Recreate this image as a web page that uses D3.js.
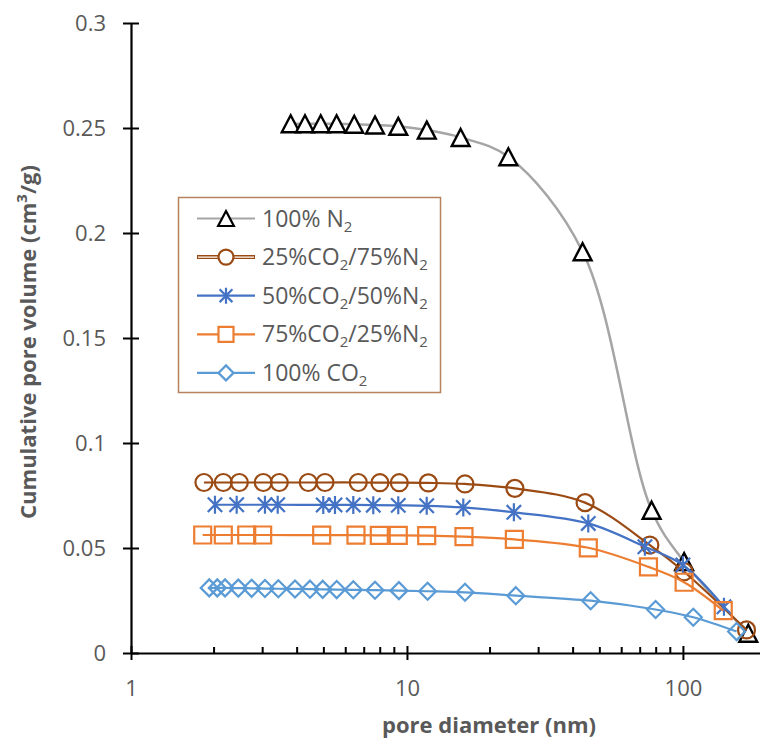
<!DOCTYPE html>
<html>
<head>
<meta charset="utf-8">
<script src="https://cdn.jsdelivr.net/npm/d3@7"></script>
<style>
  body { margin: 0; background: #fff; }
  text { font-family: "Open Sans", sans-serif; fill: #595959; }
</style>
</head>
<body>
<svg width="760" height="744"></svg>
<script>
// pore diameter (nm) and cumulative pore volume (cm3/g) per gas mixture
var n2X = [3.79, 4.27, 4.87, 5.56, 6.44, 7.66, 9.30, 11.8, 15.65, 23.3, 43.3, 77.0, 101, 172.5];
var n2Y = [0.252, 0.252, 0.252, 0.252, 0.2518, 0.2514, 0.2508, 0.249, 0.2455, 0.2363, 0.1911, 0.068, 0.0435, 0.0094];

var co25X = [1.838, 2.160, 2.469, 3.015, 3.446, 4.389, 5.045, 6.66, 7.98, 9.38, 11.95, 16.23, 24.6, 44.2, 75.9, 101, 170];
var co25Y = [0.0812, 0.0812, 0.0812, 0.0812, 0.0812, 0.0812, 0.0812, 0.0812, 0.0811, 0.0811, 0.081, 0.0805, 0.0784, 0.0716, 0.0514, 0.0387, 0.011];

var co50X = [2.015, 2.415, 3.058, 3.401, 4.974, 5.485, 6.39, 7.55, 9.30, 11.79, 16.0, 24.4, 45.4, 72.8, 100, 140.8];
var co50Y = [0.0706, 0.0706, 0.0706, 0.0706, 0.0705, 0.0705, 0.0705, 0.0704, 0.0703, 0.0701, 0.0693, 0.067, 0.0617, 0.0506, 0.0419, 0.022];

var co75X = [1.819, 2.160, 2.626, 3.000, 4.909, 6.535, 7.94, 9.30, 11.79, 16.09, 24.5, 45.4, 75, 101, 140];
var co75Y = [0.0562, 0.0562, 0.0562, 0.0562, 0.0561, 0.0561, 0.056, 0.056, 0.0559, 0.0554, 0.0541, 0.0501, 0.041, 0.0337, 0.0202];

var co100X = [1.921, 2.054, 2.191, 2.448, 2.737, 3.058, 3.419, 3.929, 4.453, 4.950, 5.564, 6.39, 7.66, 9.35, 11.88, 16.23, 24.8, 46.3, 79.6, 109, 156.5];
var co100Y = [0.031, 0.031, 0.031, 0.0309, 0.0308, 0.0307, 0.0306, 0.0305, 0.0304, 0.0303, 0.0302, 0.0301, 0.0299, 0.0297, 0.0294, 0.0289, 0.0273, 0.0249, 0.0207, 0.017, 0.0102];

var yTicks = [0, 0.05, 0.1, 0.15, 0.2, 0.25, 0.3];
var xTicks = [1, 10, 100];
var xMinor = [2, 3, 4, 5, 6, 7, 8, 9, 20, 30, 40, 50, 60, 70, 80, 90];

var series = [
  {name: ["100% N", "2", ""], xs: n2X, ys: n2Y, line: "#a5a5a5", mark: "#000000", shape: "triangle", fill: "#fff"},
  {name: ["25%CO", "2", "/75%N", "2"], xs: co25X, ys: co25Y, line: "#9a4a12", mark: "#9a4a12", shape: "circle", fill: "none", dbl: true},
  {name: ["50%CO", "2", "/50%N", "2"], xs: co50X, ys: co50Y, line: "#4472c4", mark: "#4472c4", shape: "star", fill: "none"},
  {name: ["75%CO", "2", "/25%N", "2"], xs: co75X, ys: co75Y, line: "#ed7d31", mark: "#ed7d31", shape: "square", fill: "none"},
  {name: ["100% CO", "2", ""], xs: co100X, ys: co100Y, line: "#5b9bd5", mark: "#5b9bd5", shape: "diamond", fill: "none"}
];

var svg = d3.select("svg"),
    x0 = 131, x1 = 766, yTop = 23, yBot = 653;

var xScale = d3.scaleLog().domain([1, 200]).range([x0, x1]),
    yScale = d3.scaleLinear().domain([0, 0.3]).range([yBot, yTop]);

function markerPath(shape, r) {
  if (shape == "triangle") return "M0," + (-r) + "L" + (r * 1.05) + "," + r + "L" + (-r * 1.05) + "," + r + "Z";
  if (shape == "square") return "M" + (-r) + "," + (-r) + "h" + (2 * r) + "v" + (2 * r) + "h" + (-2 * r) + "Z";
  if (shape == "diamond") return "M0," + (-r) + "L" + r + ",0L0," + r + "L" + (-r) + ",0Z";
  if (shape == "star") {
    var a = r * 0.8;
    return "M" + (-a) + "," + (-a) + "L" + a + "," + a + "M" + a + "," + (-a) + "L" + (-a) + "," + a + "M0," + (-r) + "V" + r;
  }
  return "M" + r + ",0A" + r + "," + r + " 0 1,1 " + (-r) + ",0A" + r + "," + r + " 0 1,1 " + r + ",0Z";
}

// axes
var yAxis = svg.append("g")
    .attr("transform", "translate(" + x0 + ",0)")
    .call(d3.axisLeft(yScale).tickValues(yTicks).tickSizeInner(8).tickSizeOuter(0).tickPadding(17)
      .tickFormat(function(d) { return d; }));
yAxis.select(".domain").attr("stroke", "#000").attr("stroke-width", 2.2);
yAxis.selectAll(".tick line").attr("x1", -8).attr("x2", 8).attr("stroke", "#000").attr("stroke-width", 2);
yAxis.selectAll(".tick text").attr("font-size", "22px").attr("font-family", "Open Sans").attr("fill", "#595959");

var xAxis = svg.append("g")
    .attr("transform", "translate(0," + yBot + ")")
    .call(d3.axisBottom(xScale).tickValues(xTicks).tickSizeInner(7).tickSizeOuter(0).tickPadding(20)
      .tickFormat(function(d) { return d; }));
xAxis.select(".domain").attr("stroke", "#000").attr("stroke-width", 2.2);
xAxis.selectAll(".tick line").attr("y1", -7).attr("y2", 7).attr("stroke", "#000").attr("stroke-width", 2);
xAxis.selectAll(".tick text").attr("font-size", "22px").attr("font-family", "Open Sans").attr("fill", "#595959");

xAxis.selectAll(".minor")
  .data(xMinor)
  .enter().append("line")
    .attr("x1", function(d) { return xScale(d); })
    .attr("x2", function(d) { return xScale(d); })
    .attr("y1", 0).attr("y2", -6)
    .attr("stroke", "#000").attr("stroke-width", 2);

// axis titles
svg.append("text")
    .attr("x", 489).attr("y", 733)
    .attr("text-anchor", "middle")
    .attr("font-size", "22px").attr("font-weight", "bold")
    .text("pore diameter (nm)");

var yt = svg.append("text")
    .attr("transform", "translate(36,342) rotate(-90)")
    .attr("text-anchor", "middle")
    .attr("font-size", "22px").attr("font-weight", "bold");
yt.append("tspan").text("Cumulative pore volume (cm");
yt.append("tspan").attr("font-size", "15px").attr("dy", -9).text("3");
yt.append("tspan").attr("dy", 9).text("/g)");

// series
var line = d3.line()
    .x(function(d) { return xScale(d[0]); })
    .y(function(d) { return yScale(d[1]); })
    .curve(d3.curveCatmullRom.alpha(0.5));

series.forEach(function(s) {
  var pts = s.xs.map(function(v, i) { return [v, s.ys[i]]; });
  svg.append("path")
      .datum(pts)
      .attr("d", line)
      .attr("fill", "none")
      .attr("stroke", s.line)
      .attr("stroke-width", s.shape == "triangle" ? 2.5 : 2.2);

  svg.selectAll(".m-" + s.shape)
    .data(pts)
    .enter().append("path")
      .attr("class", "m-" + s.shape)
      .attr("transform", function(d) { return "translate(" + xScale(d[0]) + "," + yScale(d[1]) + ")"; })
      .attr("d", markerPath(s.shape, s.shape == "star" ? 9 : 8.5))
      .attr("fill", s.fill)
      .attr("stroke", s.mark)
      .attr("stroke-width", s.shape == "triangle" ? 2.4 : 2.2);
});

// legend
var lg = svg.append("g");
lg.append("rect")
    .attr("x", 178.5).attr("y", 197.5)
    .attr("width", 262).attr("height", 195)
    .attr("fill", "#fff")
    .attr("stroke", "#b5825d").attr("stroke-width", 1.5);

series.forEach(function(s, i) {
  var cy = 218.5 + i * 38.6;
  if (s.dbl) {
    lg.append("line").attr("x1", 197).attr("x2", 255).attr("y1", cy).attr("y2", cy)
      .attr("stroke", s.line).attr("stroke-width", 4);
    lg.append("line").attr("x1", 198).attr("x2", 254).attr("y1", cy).attr("y2", cy)
      .attr("stroke", "#fff").attr("stroke-width", 1.4);
  } else {
    lg.append("line").attr("x1", 197).attr("x2", 255).attr("y1", cy).attr("y2", cy)
      .attr("stroke", s.line).attr("stroke-width", 2.2);
  }
  lg.append("path")
      .attr("transform", "translate(226," + cy + ")")
      .attr("d", markerPath(s.shape, s.shape == "star" ? 8 : 7.5))
      .attr("fill", "#fff")
      .attr("stroke", s.mark)
      .attr("stroke-width", 2.2);
  var t = lg.append("text")
      .attr("x", 262).attr("y", cy + 8)
      .attr("font-size", "23px");
  t.append("tspan").text(s.name[0]);
  t.append("tspan").attr("font-size", "15px").attr("dy", 5).text(s.name[1]);
  if (s.name[2]) {
    t.append("tspan").attr("dy", -5).text(s.name[2]);
    t.append("tspan").attr("font-size", "15px").attr("dy", 5).text(s.name[3]);
  }
});
</script>
</body>
</html>
